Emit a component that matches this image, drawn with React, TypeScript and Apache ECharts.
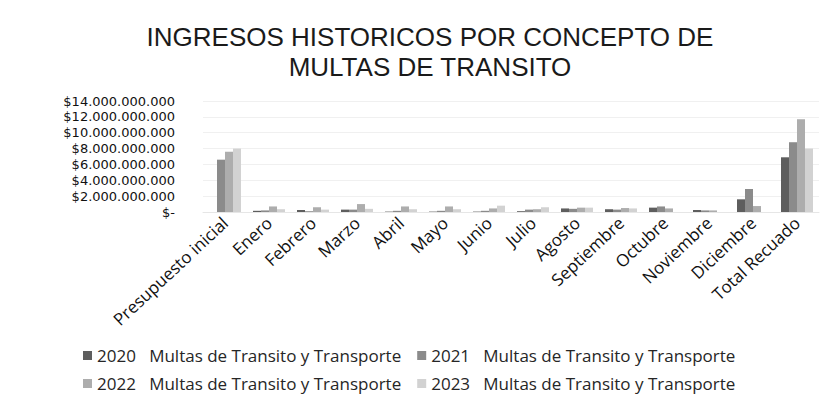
import React, { useEffect, useRef } from "react";
import * as echarts from "echarts";

const categories = [
  "Presupuesto inicial", "Enero", "Febrero", "Marzo", "Abril", "Mayo", "Junio",
  "Julio", "Agosto", "Septiembre", "Octubre", "Noviembre", "Diciembre", "Total Recuado",
];
const seriesNames = [
  "2020   Multas de Transito y Transporte",
  "2021   Multas de Transito y Transporte",
  "2022   Multas de Transito y Transporte",
  "2023   Multas de Transito y Transporte",
];
const titleLines = ["INGRESOS HISTORICOS POR CONCEPTO DE", "MULTAS DE TRANSITO"];
const values2020 = [0, 150e6, 250e6, 300e6, 50e6, 50e6, 50e6, 100e6, 450e6, 350e6, 550e6, 250e6, 1600e6, 6900e6];
const values2021 = [6600e6, 200e6, 100e6, 300e6, 150e6, 150e6, 150e6, 300e6, 400e6, 300e6, 700e6, 200e6, 2900e6, 8800e6];
const values2022 = [7600e6, 700e6, 600e6, 1000e6, 700e6, 700e6, 450e6, 350e6, 550e6, 500e6, 450e6, 200e6, 750e6, 11700e6];
const values2023 = [8000e6, 350e6, 300e6, 400e6, 350e6, 350e6, 800e6, 600e6, 550e6, 450e6, null, null, null, 8000e6];
const yTicks = { min: 0, max: 14e9, interval: 2e9 };
const colors = ["#5e5e5e", "#8b8b8b", "#adadad", "#d2d2d2"];

function fmt(v: number) {
  if (v === 0) return "$-";
  return "$" + String(Math.round(v)).replace(/\B(?=(\d{3})+(?!\d))/g, ".");
}

export default function App() {
  const ref = useRef<HTMLDivElement>(null);
  useEffect(() => {
    document.body.style.margin = "0";
    if (!ref.current) return;
    const chart = echarts.init(ref.current, null, { renderer: "svg" });
    const data = [values2020, values2021, values2022, values2023];
    const legendText = { fontFamily: "Open Sans", fontSize: 17, color: "#262626" };
    const titleStyle = {
      fontFamily: "Liberation Sans", fontSize: 26, lineHeight: 28, fill: "#1a1a1a",
      align: "center", verticalAlign: "middle",
    };
    chart.setOption({
      animation: false,
      backgroundColor: "#ffffff",
      color: colors,
      graphic: [
        { type: "text", x: 430, y: 37, style: { ...titleStyle, text: titleLines[0] } },
        { type: "text", x: 430, y: 67, style: { ...titleStyle, text: titleLines[1] } },
      ],
      legend: [
        {
          data: [seriesNames[0], seriesNames[1]],
          left: 78, top: 342, itemWidth: 9, itemHeight: 9, itemGap: 16, icon: "rect",
          textStyle: legendText,
        },
        {
          data: [seriesNames[2], seriesNames[3]],
          left: 78, top: 370, itemWidth: 9, itemHeight: 9, itemGap: 16, icon: "rect",
          textStyle: legendText,
        },
      ],
      grid: { left: 203, right: 11, top: 101, bottom: 191, containLabel: false },
      xAxis: {
        type: "category",
        data: categories,
        axisTick: { show: false },
        axisLine: { show: true, lineStyle: { color: "#e6e6e6" } },
        axisLabel: {
          interval: 0, rotate: 43, margin: 8,
          fontFamily: "Open Sans", fontSize: 17, color: "#111",
        },
      },
      yAxis: {
        type: "value",
        min: yTicks.min, max: yTicks.max, interval: yTicks.interval,
        axisLine: { show: false },
        axisTick: { show: false },
        splitLine: { lineStyle: { color: "#f0f0f0" } },
        axisLabel: {
          margin: 28, formatter: fmt,
          fontFamily: "DejaVu Sans", fontSize: 13, lineHeight: 14, color: "#111",
        },
      },
      series: seriesNames.map((name, i) => ({
        name, type: "bar", data: data[i], barWidth: 8, barGap: "0%",
        itemStyle: { color: colors[i] },
      })),
    });
    return () => chart.dispose();
  }, []);
  return <div ref={ref} style={{ width: 830, height: 403 }} />;
}
